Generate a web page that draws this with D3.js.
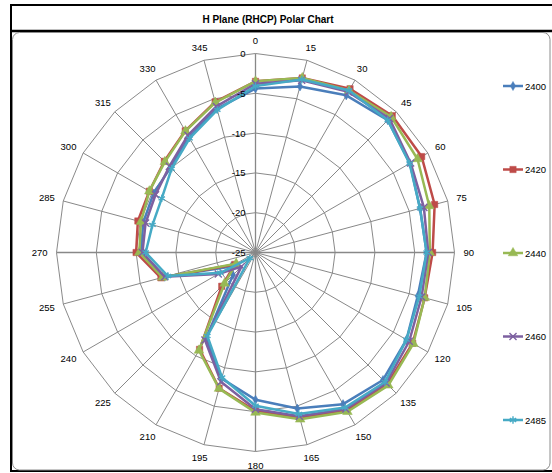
<!DOCTYPE html>
<html><head><meta charset="utf-8">
<script src="https://cdn.jsdelivr.net/npm/d3@7"></script>
<style>body{margin:0;background:#fff}svg{display:block}</style>
</head><body>
<svg id="c" width="552" height="473"></svg>
<script>
// ---- data ----
const angles = [0,15,30,45,60,75,90,105,120,135,150,165,180,195,210,225,240,255,270,285,300,315,330,345];
const angleLabels = ["0","15","30","45","60","75","90","105","120","135","150","165","180","195","210","225","240","255","270","285","300","315","330","345"];
const radialTicks = [0,-5,-10,-15,-20,-25];
const seriesNames = ["2400","2420","2440","2460","2485"];
const s2400 = [-4.4,-3.4,-2.2,-1.5,-2.6,-3.6,-3.5,-3.9,-3.1,-2.35,-3.0,-4.7,-6.5,-8.6,-12.6,-21.0,-21.5,-13.2,-10.6,-10.4,-10.2,-9.9,-8.3,-6.3];
const s2420 = [-3.5,-2.3,-1.25,-0.7,-0.9,-1.7,-2.75,-3.0,-2.2,-1.6,-2.1,-3.5,-5.1,-7.35,-10.95,-19.0,-22.0,-12.7,-10.0,-9.7,-9.6,-8.8,-7.35,-5.4];
const s2440 = [-3.5,-2.3,-1.5,-0.9,-1.5,-2.4,-3.1,-3.0,-2.1,-1.4,-1.9,-3.3,-4.9,-7.3,-10.8,-19.5,-22.2,-12.9,-10.4,-10.1,-9.6,-8.9,-7.4,-5.5];
const s2460 = [-3.8,-2.6,-1.7,-1.2,-2.5,-3.1,-3.3,-3.4,-2.7,-1.8,-2.3,-3.7,-5.3,-8.2,-12.3,-22.5,-19.6,-13.2,-10.8,-10.7,-10.5,-9.7,-8.0,-6.0];
const s2485 = [-4.1,-2.5,-1.5,-1.5,-2.65,-3.6,-3.5,-3.7,-3.1,-2.0,-2.5,-4.0,-5.75,-8.75,-12.9,-24.0,-19.9,-13.6,-11.2,-11.6,-11.4,-10.1,-8.45,-6.45];
const seriesValues = [s2400,s2420,s2440,s2460,s2485];

// ---- styles ----
const colors = ["#4A7EBB","#BE4B48","#98B954","#7D60A0","#46AAC5"];
const symbols = [d3.symbolDiamond, d3.symbolSquare, d3.symbolTriangle, d3.symbolX, d3.symbolAsterisk];
const filled = [true,true,true,false,false];
const symSize = [24,40,40,34,38];
const narrow = "'Liberation Sans Narrow','Arial Narrow','Liberation Sans',Arial,sans-serif";

const svg = d3.select("#c");
const cx = 255.5, cy = 252.5, R = 199;

// frames
svg.append("rect").attr("x",11).attr("y",5).attr("width",600).attr("height",466)
  .attr("fill","none").attr("stroke","#000").attr("stroke-width",2);
svg.append("line").attr("x1",11).attr("x2",552).attr("y1",31).attr("y2",31)
  .attr("stroke","#000").attr("stroke-width",2.5);
svg.append("rect").attr("x",12.5).attr("y",32.5).attr("width",537.5).attr("height",437.5)
  .attr("rx",7).attr("fill","#fff").attr("stroke","#8c8c8c").attr("stroke-width",1);

svg.append("text").attr("x",268).attr("y",19).attr("text-anchor","middle")
  .attr("dominant-baseline","central")
  .style("font-family","'Liberation Sans',Arial,sans-serif").style("font-weight","bold")
  .style("font-size","10px").text("H Plane (RHCP) Polar Chart");

const r = d3.scaleLinear().domain([-25,0]).range([0,R]);
const a = d3.scaleLinear().domain([0,360]).range([0,2*Math.PI]);
const g = svg.append("g").attr("transform",`translate(${cx},${cy})`);

// grid rings
const ring = d3.lineRadial().angle(d=>a(d.ang)).radius(d=>r(d.v)).curve(d3.curveLinearClosed);
radialTicks.filter(t=>t>-25).forEach(t=>{
  g.append("path").attr("d", ring(angles.map(ang=>({ang, v:t}))))
    .attr("fill","none").attr("stroke","#8a8a8a").attr("stroke-width",1);
});
// spokes
angles.forEach(ang=>{
  const th = a(ang);
  g.append("line").attr("x1",0).attr("y1",0)
    .attr("x2", r(0)*Math.sin(th)).attr("y2", -r(0)*Math.cos(th))
    .attr("stroke", "#888").attr("stroke-width",(ang%90===0)?1.3:1);
});

// angle labels
angles.forEach((ang,i)=>{
  const th = a(ang);
  const t = g.append("text").style("font-family",narrow).style("font-size","9.5px")
    .attr("text-anchor","middle").attr("dominant-baseline","central").text(angleLabels[i]);
  const w = t.node().getComputedTextLength();
  const rr = R + 8;
  const x = rr*Math.sin(th) + Math.sin(th)*(w/2+1);
  const y = -rr*Math.cos(th) - Math.cos(th)*5.5;
  t.attr("x",x).attr("y",y);
});

// series
const line = d3.lineRadial().angle(d=>a(d.ang)).radius(d=>r(d.v)).curve(d3.curveLinearClosed);
seriesValues.forEach((vals,si)=>{
  const pts = angles.map((ang,i)=>({ang, v:vals[i]}));
  g.append("path").attr("d", line(pts)).attr("fill","none")
    .attr("stroke",colors[si]).attr("stroke-width",2.5).attr("stroke-linejoin","round");
  const sym = d3.symbol().type(symbols[si]).size(symSize[si]);
  pts.forEach(p=>{
    const th = a(p.ang), rv = r(p.v);
    g.append("path").attr("d", sym())
      .attr("transform",`translate(${rv*Math.sin(th)},${-rv*Math.cos(th)})`)
      .attr("fill", filled[si]?colors[si]:"none")
      .attr("stroke", colors[si]).attr("stroke-width", filled[si]?0.5:1.4);
  });
});

// radial axis labels
radialTicks.forEach(t=>{
  g.append("text").attr("x",-10).attr("y",-r(t)).attr("text-anchor","end")
    .attr("dominant-baseline","central")
    .style("font-family","'Liberation Sans',Arial,sans-serif").style("font-size","9.5px")
    .text(String(t));
});

// legend
const legY = d3.scalePoint().domain(seriesNames).range([86,420]);
seriesNames.forEach((nm,si)=>{
  const y = legY(nm);
  svg.append("line").attr("x1",503).attr("x2",523).attr("y1",y).attr("y2",y)
    .attr("stroke",colors[si]).attr("stroke-width",2.5);
  svg.append("path").attr("d", d3.symbol().type(symbols[si]).size(symSize[si])())
    .attr("transform",`translate(513,${y})`)
    .attr("fill", filled[si]?colors[si]:"none")
    .attr("stroke",colors[si]).attr("stroke-width", filled[si]?0.5:1.4);
  svg.append("text").attr("x",525).attr("y",y).attr("dominant-baseline","central")
    .style("font-family",narrow).style("font-size","9.5px").text(nm);
});
</script>
</body></html>
